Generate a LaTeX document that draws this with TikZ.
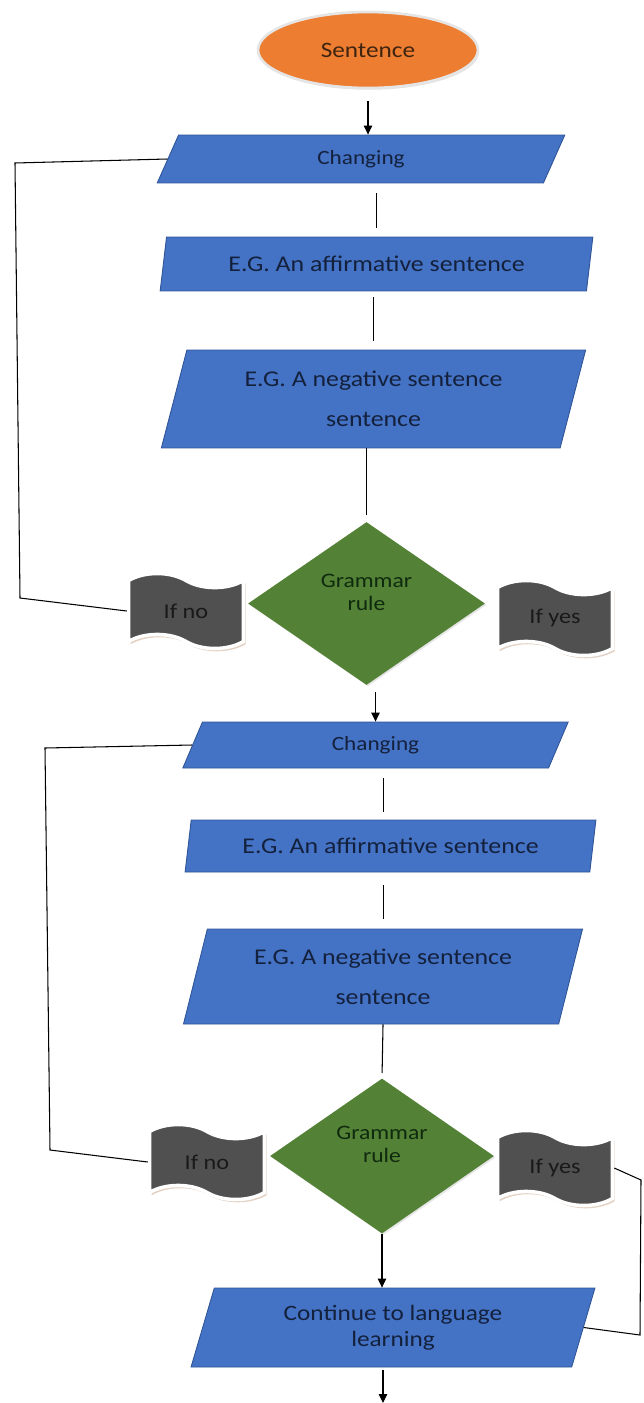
\documentclass[tikz,border=0pt]{standalone}
\usepackage{fontspec}
\setmainfont{Carlito}[FakeStretch=1.15]
\usetikzlibrary{shapes.geometric,shapes.symbols,arrows.meta,shadows}

\definecolor{boxblue}{HTML}{4472C4}
\definecolor{boxedge}{HTML}{2F5597}
\definecolor{boxtext}{HTML}{14213D}
\definecolor{rulegreen}{HTML}{538135}
\definecolor{ruletext}{HTML}{0F2A0F}
\definecolor{startorange}{HTML}{ED7D31}
\definecolor{starttext}{HTML}{3F2410}
\definecolor{flaggray}{HTML}{505050}
\definecolor{flagtan}{HTML}{C8A488}

\begin{document}
\begin{tikzpicture}[x=0.02cm, y=-0.02cm,
    link/.style={draw=black, line width=0.6pt},
    arr/.style={link, -{Triangle[length=1.8mm, width=1.7mm]}},
    startnode/.style={ellipse, fill=startorange, draw=gray!20, line width=1.5pt,
      drop shadow={fill=gray!45, shadow xshift=0.6pt, shadow yshift=-1pt},
      minimum width=4.4cm, minimum height=1.52cm, text=starttext,
      font=\fontsize{12.5}{15}\selectfont},
    para/.style 2 args={trapezium, trapezium stretches=true,
      trapezium left angle=#1, trapezium right angle=#2,
      fill=boxblue, draw=boxedge, line width=0.5pt, inner sep=0pt,
      text=boxtext, align=center},
    rulebox/.style={diamond, fill=rulegreen, draw=none, inner sep=0pt,
      drop shadow={fill=gray!40, shadow xshift=0.8pt, shadow yshift=-0.8pt},
      text=ruletext, align=center, font=\fontsize{11.7}{13}\selectfont},
    flag/.style={tape, tape bend top=out and in, tape bend bottom=out and in,
      tape bend height=8pt, fill=flaggray, draw=white,
      line width=2pt, minimum width=2.3cm, minimum height=1.5cm,
      drop shadow={fill=flagtan, shadow xshift=1.2pt, shadow yshift=-1.6pt},
      text=black!90, font=\fontsize{12}{14}\selectfont}
  ]

  \useasboundingbox (0,0) rectangle (643,1403);

  % first pass
  \node[startnode] (sent) at (368,50) {Sentence};
  \node[para={73.7}{106.3}, minimum width=8.16cm, minimum height=0.96cm,
    font=\fontsize{11.5}{13}\selectfont] (chg1) at (361,159) {Changing};
  \node[para={74}{106}, minimum width=8.66cm, minimum height=1.08cm,
    font=\fontsize{12.8}{15}\selectfont] (aff1) at (376.5,264)
    {E.G. An affirmative sentence};
  \node[para={72.4}{107.6}, minimum width=8.5cm, minimum height=1.96cm,
    font=\fontsize{12.8}{22.7}\selectfont] (neg1) at (373.5,399)
    {E.G. A negative sentence\\sentence};
  \node[rulebox, minimum width=4.74cm, minimum height=3.26cm] (rule1)
    at (366.5,603.5) {Grammar\\rule\\\mbox{}};
  \node[flag] (no1) at (186,611) {If no};
  \node[flag] (yes1) at (555,618) {If yes};

  % second pass
  \node[para={74.2}{105.8}, minimum width=7.74cm, minimum height=0.92cm,
    font=\fontsize{11.5}{13}\selectfont] (chg2) at (375.5,745) {Changing};
  \node[para={73.9}{106.1}, minimum width=8.22cm, minimum height=1.04cm,
    font=\fontsize{12.8}{15}\selectfont] (aff2) at (390.5,846)
    {E.G. An affirmative sentence};
  \node[para={72.5}{107.5}, minimum width=8cm, minimum height=1.9cm,
    font=\fontsize{12.8}{22.7}\selectfont] (neg2) at (383,976.5)
    {E.G. A negative sentence\\sentence};
  \node[rulebox, minimum width=4.48cm, minimum height=3.1cm] (rule2)
    at (382,1156) {Grammar\\rule\\\mbox{}};
  \node[flag] (no2) at (207,1162) {If no};
  \node[flag] (yes2) at (555,1168) {If yes};
  \node[para={72.4}{107.6}, minimum width=8.08cm, minimum height=1.58cm,
    font=\fontsize{12.5}{14.7}\selectfont] (cont) at (393,1327.5)
    {Continue to language\\learning};

  % loose ends
  \coordinate (loopA1) at (20,598);
  \coordinate (loopA2) at (15,163);
  \coordinate (loopB1) at (50,1150);
  \coordinate (loopB2) at (45,748);
  \coordinate (loopC1) at (641,1180);
  \coordinate (loopC2) at (640,1335);
  \coordinate (out) at (383,1403);

  % Arrows
  \draw[arr, shorten <=0.24cm] (sent.south) -- (sent.south |- chg1.north);
  \draw[link, shorten <=0.2cm, shorten >=0.18cm] (aff1.north |- chg1.south) -- (aff1.north);
  \draw[link, shorten <=0.12cm, shorten >=0.18cm] (neg1.north |- aff1.south) -- (neg1.north);
  \draw[link, shorten >=0.14cm] (rule1.north |- neg1.south) -- (rule1.north);
  \draw[arr, shorten <=0.14cm] (chg2.north |- rule1.south) -- (chg2.north);

  \draw[link, shorten <=0.2cm, shorten >=0.16cm] (neg2.north |- chg2.south) -- (neg2.north |- aff2.north);
  \draw[link, shorten <=0.26cm, shorten >=0.2cm] (neg2.north |- aff2.south) -- (neg2.north);
  \draw[link, shorten >=0.1cm] (neg2.north |- neg2.south) -- (rule2.north);
  \draw[arr] (rule2.south) -- (cont.north -| rule2.south);
  \draw[arr, shorten <=0.06cm] (cont.south -| out) -- (out);

  % loops back
  \draw[link] (no1.west) -- (loopA1) -- (loopA2) -- (chg1.west);
  \draw[link] (no2.west) -- (loopB1) -- (loopB2) -- (chg2.west);
  \draw[link] (yes2.east) -- (loopC1) -- (loopC2) -- (cont.east);

\end{tikzpicture}
\end{document}
